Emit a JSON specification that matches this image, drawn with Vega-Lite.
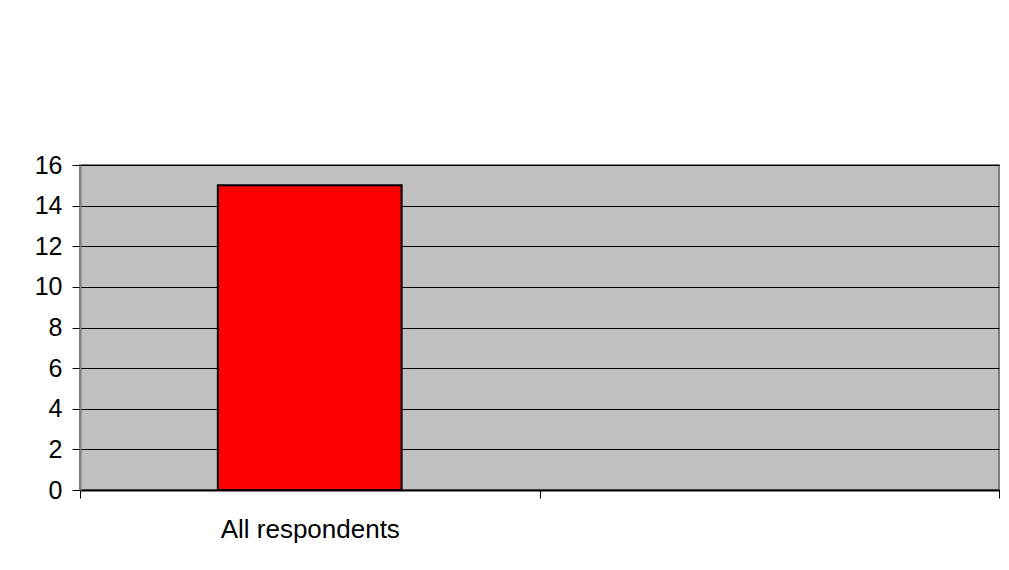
{
  "$schema": "https://vega.github.io/schema/vega-lite/v6.json",
  "autosize": "none",
  "width": 919,
  "height": 325,
  "padding": {"left": 80, "top": 165, "right": 10, "bottom": 80},
  "background": "white",
  "data": {"values": [
    {"category": "All respondents", "value": 15}
  ]},
  "layer": [
    {
      "mark": {"type": "bar", "color": "#FF0000", "stroke": "#000000", "strokeWidth": 2},
      "encoding": {
        "x": {
          "field": "category", "type": "nominal",
          "scale": {"domain": ["All respondents", ""], "paddingInner": 0.6, "paddingOuter": 0.3},
          "axis": null
        },
        "y": {
          "field": "value", "type": "quantitative",
          "scale": {"domain": [0, 16], "nice": false},
          "axis": {
            "title": null, "values": [0, 2, 4, 6, 8, 10, 12, 14, 16],
            "domainColor": "#808080", "domainWidth": 2, "tickColor": "#000000", "tickSize": 8,
            "labelFont": "Liberation Sans", "labelFontSize": 25, "labelColor": "#000000", "labelPadding": 10,
            "grid": true, "gridColor": "#000000", "gridWidth": 1, "gridOpacity": 1
          }
        }
      }
    },
    {
      "mark": {"type": "bar", "opacity": 0},
      "encoding": {
        "x": {
          "field": "category", "type": "nominal",
          "scale": {"domain": ["All respondents", ""], "paddingInner": 0, "paddingOuter": 0},
          "axis": {
            "title": null, "labelAngle": 0, "tickBand": "extent",
            "domainColor": "#000000", "domainWidth": 2, "tickColor": "#000000", "tickSize": 8, "tickWidth": 1,
            "labelFont": "Liberation Sans", "labelFontSize": 26, "labelColor": "#000000", "labelPadding": 18,
            "grid": false
          }
        },
        "y": {"field": "value", "type": "quantitative", "scale": {"domain": [0, 16], "nice": false}}
      }
    }
  ],
  "resolve": {"scale": {"x": "independent"}},
  "config": {
    "view": {"fill": "#C0C0C0", "stroke": "#808080", "strokeWidth": 2}
  }
}
